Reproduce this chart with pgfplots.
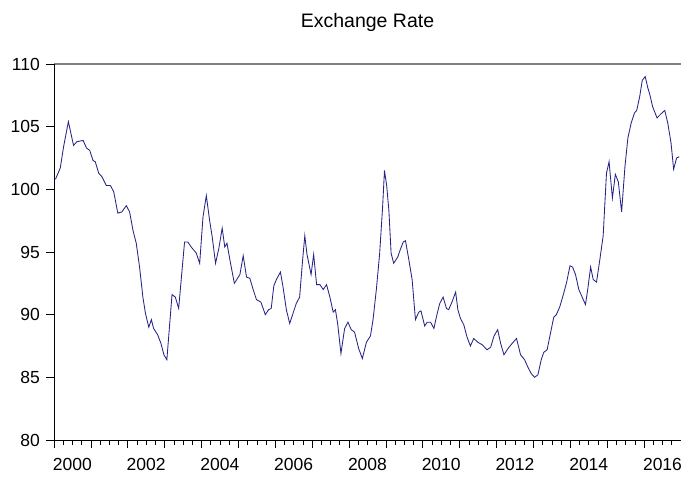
\documentclass[border=0pt]{standalone}
\usepackage{fontspec}
\setmainfont{Liberation Sans}
\usepackage{pgfplots}
\pgfplotsset{compat=1.18}
\definecolor{serie}{rgb}{0.14,0.14,0.52}
\begin{document}
\begin{tikzpicture}
\begin{axis}[
  name=ax,
  at={(0,0)}, anchor=south west,
  scale only axis, width=627pt, height=376pt,
  xmin=2000, xmax=2017, ymin=80, ymax=110,
  axis line style={draw=none},
  xtick pos=bottom, ytick pos=left,
  xtick={2000,...,2016},
  xticklabels={2000,,2002,,2004,,2006,,2008,,2010,,2012,,2014,,2016},
  xticklabel style={anchor=north, inner sep=0pt, xshift=18.44pt, yshift=-18pt},
  ytick={80,85,...,110},
  yticklabel style={anchor=east, inner sep=0pt, xshift=-14pt},
  major tick length=0pt, minor tick length=0pt,
  /pgf/number format/assume math mode=true,
  tick label style={font=\fontsize{17.5}{17.5}\selectfont},
  clip=false,
]
\addplot[serie, line width=0.85pt] coordinates {
(2000.04,100.8) (2000.17,101.7) (2000.26,103.4) (2000.39,105.4) (2000.53,103.5)
(2000.62,103.8) (2000.79,103.9) (2000.88,103.3) (2000.97,103.1) (2001.06,102.3)
(2001.12,102.2) (2001.21,101.3) (2001.30,101.0) (2001.42,100.3) (2001.53,100.3)
(2001.62,99.8) (2001.73,98.1) (2001.84,98.2) (2001.96,98.7) (2002.05,98.2)
(2002.14,96.75) (2002.23,95.7) (2002.32,93.8) (2002.41,91.4) (2002.48,90.1)
(2002.57,89.0) (2002.64,89.6) (2002.70,88.9) (2002.81,88.4) (2002.90,87.7)
(2002.98,86.8) (2003.06,86.4) (2003.20,91.6) (2003.29,91.4) (2003.38,90.5)
(2003.54,95.8) (2003.63,95.8) (2003.72,95.4) (2003.86,94.9) (2003.95,94.1)
(2004.04,97.8) (2004.13,99.5) (2004.22,97.5) (2004.29,96.2) (2004.38,94.1)
(2004.47,95.3) (2004.56,96.9) (2004.63,95.4) (2004.69,95.7) (2004.78,94.2)
(2004.89,92.5) (2005.04,93.2) (2005.13,94.7) (2005.22,93.0) (2005.31,92.9)
(2005.40,92.0) (2005.49,91.2) (2005.61,91.0) (2005.73,90.0) (2005.82,90.4)
(2005.89,90.5) (2005.96,92.3) (2006.03,92.8) (2006.14,93.4) (2006.21,92.2)
(2006.30,90.4) (2006.39,89.3) (2006.48,90.1) (2006.57,90.9) (2006.66,91.4)
(2006.73,94.0) (2006.80,96.3) (2006.86,94.8) (2006.97,93.2) (2007.04,94.8)
(2007.12,92.4) (2007.21,92.4) (2007.30,92.0) (2007.39,92.4) (2007.48,91.4)
(2007.57,90.2) (2007.63,90.4) (2007.69,89.3) (2007.78,86.9) (2007.88,88.9)
(2007.97,89.4) (2008.06,88.8) (2008.15,88.6) (2008.26,87.3) (2008.36,86.5)
(2008.47,87.8) (2008.58,88.3) (2008.65,89.6) (2008.74,92.0) (2008.83,94.9)
(2008.91,98.6) (2008.96,101.5) (2009.02,100.3) (2009.08,98.3) (2009.14,94.9)
(2009.21,94.1) (2009.32,94.6) (2009.39,95.2) (2009.47,95.8) (2009.53,95.9)
(2009.62,94.4) (2009.71,92.8) (2009.80,89.6) (2009.89,90.2) (2009.95,90.3)
(2010.05,89.1) (2010.12,89.4) (2010.21,89.4) (2010.30,88.9) (2010.39,90.1)
(2010.46,90.9) (2010.55,91.4) (2010.64,90.5) (2010.70,90.4) (2010.79,91.0)
(2010.89,91.8) (2010.95,90.4) (2011.02,89.7) (2011.11,89.2) (2011.20,88.2)
(2011.29,87.5) (2011.38,88.1) (2011.49,87.8) (2011.61,87.6) (2011.74,87.2)
(2011.84,87.4) (2011.93,88.3) (2012.03,88.8) (2012.11,87.7) (2012.20,86.8)
(2012.31,87.3) (2012.42,87.7) (2012.54,88.1) (2012.65,86.8) (2012.76,86.4)
(2012.85,85.8) (2012.94,85.3) (2013.03,85.0) (2013.12,85.2) (2013.21,86.4)
(2013.28,87.0) (2013.37,87.2) (2013.46,88.5) (2013.55,89.8) (2013.62,90.0)
(2013.71,90.6) (2013.81,91.6) (2013.90,92.6) (2013.99,93.9) (2014.06,93.8)
(2014.14,93.2) (2014.23,92.0) (2014.32,91.4) (2014.41,90.8) (2014.47,92.0)
(2014.55,93.8) (2014.62,92.8) (2014.71,92.6) (2014.80,94.4) (2014.89,96.3)
(2014.94,99.1) (2014.98,101.3) (2015.05,102.2) (2015.14,99.3) (2015.22,101.2)
(2015.30,100.6) (2015.39,98.2) (2015.48,101.8) (2015.56,104.1) (2015.65,105.3)
(2015.74,106.1) (2015.80,106.3) (2015.88,107.4) (2015.95,108.7) (2016.03,109.0)
(2016.10,108.1) (2016.16,107.5) (2016.23,106.6) (2016.35,105.7) (2016.45,106.0)
(2016.56,106.3) (2016.64,105.3) (2016.73,103.7) (2016.80,101.6) (2016.88,102.5)
(2016.95,102.6)
};
\end{axis}
\draw[gray, line width=1.6pt] (ax.north west) -- (ax.north east);
\draw[black, line width=0.7pt] (ax.north west) -- (ax.south west) -- (ax.south east);
\foreach \i in {0,...,16}
  \draw[black, line width=0.7pt] ([xshift=\i*36.882pt]ax.south west) -- ++(0,-8pt);
\foreach \i in {1,...,67}
  \draw[black, line width=0.7pt] ([xshift=\i*9.2206pt]ax.south west) -- ++(0,-5pt);
\foreach \j in {0,...,6}
  \draw[black, line width=0.7pt] ([yshift=\j*62.667pt]ax.south west) -- ++(-8pt,0);
\node[font=\fontsize{19.5}{19.5}\selectfont, anchor=base, yshift=36pt] at (ax.north) {Exchange Rate};
\pgfresetboundingbox
\path (-54pt,-38pt) rectangle (627pt,440pt);
\end{tikzpicture}
\end{document}
